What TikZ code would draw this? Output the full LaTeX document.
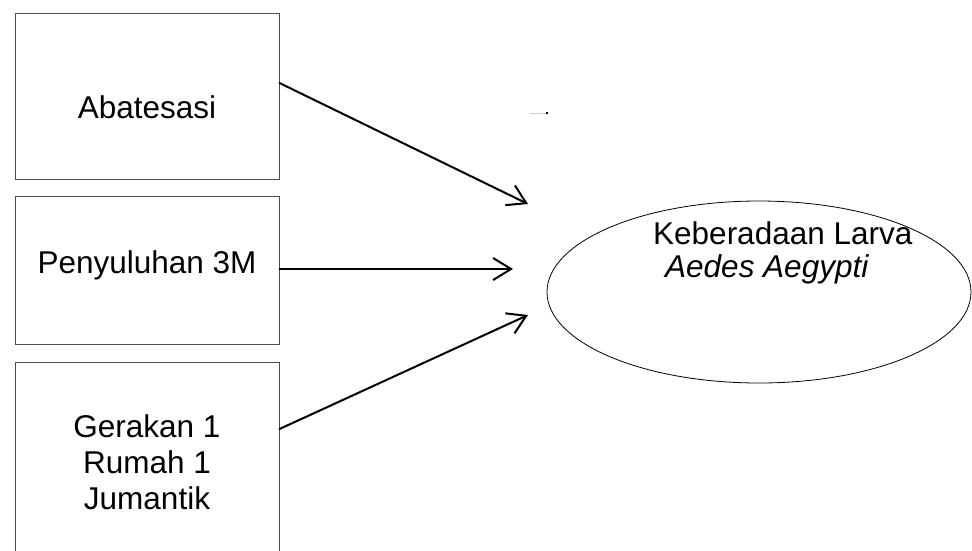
\documentclass[tikz,border=0pt]{standalone}
\usepackage{fontspec}
\setmainfont{Liberation Sans}
\usetikzlibrary{shapes.geometric,arrows.meta}
\begin{document}
\begin{tikzpicture}[x=1pt,y=-1pt,
  boxnode/.style={rectangle, draw=black!70, line width=1pt, minimum width=264pt, inner sep=0pt},
  txt/.style={font=\fontsize{31.5}{36}\selectfont, inner sep=0pt},
  conn/.style={line width=2pt, line cap=round, -{Straight Barb[length=18pt,width=22pt,line width=2pt]}}
]
\useasboundingbox (0,0) rectangle (972,550);
\fill[white] (0,0) rectangle (972,550);

% boxes
\node[boxnode, minimum height=166pt] (b1) at (147,96) {};
\node[boxnode, minimum height=148pt] (b2) at (147,270) {};
\node[boxnode, minimum height=198pt] (b3) at (147,461) {};

% box texts
\node[txt, anchor=base] (t1) at (147,118) {Abatesasi};
\node[txt, anchor=base] (t2) at (147,273) {Penyuluhan 3M};
\node[txt, anchor=center, align=center] (t3) at (147,462.5) {Gerakan 1\\Rumah 1\\Jumantik};

% ellipse
\node[ellipse, draw=black, line width=0.8pt, minimum width=424pt, minimum height=182pt, inner sep=0pt] (e) at (759,292) {};
\node[txt, anchor=base west] (l1) at (653,244) {Keberadaan Larva};
\node[txt, anchor=base west, font=\fontsize{31.5}{36}\selectfont\itshape] (l2) at (665,277) {Aedes Aegypti};

% arrow ends
\coordinate (e1) at (528,204);
\coordinate (e2) at (513,269);
\coordinate (e3) at (528,315);

\draw[conn] ([yshift=13pt]b1.east) -- (e1);
\draw[conn] ([yshift=1pt]b2.east) -- (e2);
\draw[conn] ([yshift=32pt]b3.east) -- (e3);

% small stray mark
\draw[black!20, line width=0.7pt] (530,113.5) -- (546,113.5);
\fill[black] (546,111.5) rectangle (548,114);
\end{tikzpicture}
\end{document}
